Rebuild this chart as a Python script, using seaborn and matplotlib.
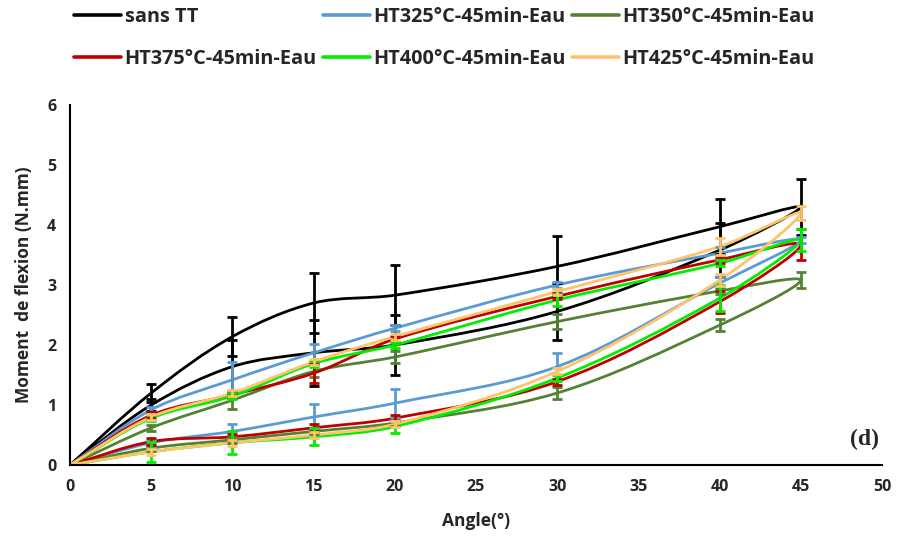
import numpy as np
import matplotlib
matplotlib.use("Agg")
import matplotlib.pyplot as plt
from matplotlib.path import Path
from matplotlib.patches import PathPatch
from matplotlib.lines import Line2D
import seaborn as sns

# loading 0 -> 45 then unloading 45 -> 0
angles = [0, 5, 10, 15, 20, 30, 40, 45, 40, 30, 20, 15, 10, 5, 0]

sans_tt = [0, 1.20, 2.14, 2.70, 2.83, 3.31, 3.97, 4.30, 3.58, 2.56, 2.00, 1.87, 1.64, 1.00, 0]
sans_tt_err = [0, 0.15, 0.33, 0.50, 0.50, 0.50, 0.46, 0.47, 0.45, 0.48, 0.50, 0.55, 0.45, 0.10, 0]

ht325 = [0, 0.92, 1.42, 1.87, 2.28, 3.00, 3.53, 3.75, 3.03, 1.64, 1.03, 0.80, 0.56, 0.37, 0]
ht325_err = [0, 0.05, 0.30, 0.15, 0.05, 0.05, 0.10, 0.05, 0.10, 0.23, 0.24, 0.22, 0.12, 0.05, 0]

ht350 = [0, 0.62, 1.08, 1.56, 1.80, 2.39, 2.90, 3.08, 2.33, 1.20, 0.70, 0.56, 0.42, 0.28, 0]
ht350_err = [0, 0.05, 0.15, 0.10, 0.10, 0.13, 0.05, 0.13, 0.10, 0.10, 0.05, 0.05, 0.05, 0.05, 0]

ht375 = [0, 0.83, 1.17, 1.53, 2.10, 2.81, 3.42, 3.67, 2.72, 1.39, 0.78, 0.62, 0.47, 0.39, 0]
ht375_err = [0, 0.05, 0.05, 0.16, 0.05, 0.05, 0.05, 0.26, 0.18, 0.05, 0.05, 0.06, 0.05, 0.06, 0]

ht400 = [0, 0.78, 1.15, 1.69, 2.00, 2.75, 3.36, 3.75, 2.78, 1.45, 0.64, 0.47, 0.37, 0.22, 0]
ht400_err = [0, 0.05, 0.05, 0.05, 0.05, 0.10, 0.05, 0.18, 0.22, 0.05, 0.10, 0.14, 0.19, 0.17, 0]

ht425 = [0, 0.80, 1.20, 1.72, 2.14, 2.89, 3.64, 4.20, 3.08, 1.56, 0.68, 0.50, 0.37, 0.22, 0]
ht425_err = [0, 0.05, 0.05, 0.05, 0.05, 0.05, 0.14, 0.12, 0.10, 0.05, 0.05, 0.05, 0.05, 0.05, 0]

labels = ["sans TT", "HT325°C-45min-Eau", "HT350°C-45min-Eau",
          "HT375°C-45min-Eau", "HT400°C-45min-Eau", "HT425°C-45min-Eau"]
colors = ["#000000", "#5B9BD5", "#548235", "#C00000", "#00EE00", "#FFC36B"]
series = [sans_tt, ht325, ht350, ht375, ht400, ht425]
errors = [sans_tt_err, ht325_err, ht350_err, ht375_err, ht400_err, ht425_err]

sns.set_theme(style="white")
plt.rcParams['font.family'] = ['Open Sans', 'DejaVu Sans']
plt.rcParams['font.weight'] = 'bold'

YS = 60 / 16.24  # pixel aspect of one y unit vs one x unit


def smooth_path(x, y):
    # excel-like smoothed line, cubic bezier with tangents weighted by segment length
    p = np.column_stack([x, np.asarray(y) * YS]).astype(float)
    pts = np.vstack([p[0], p, p[-1]])
    verts = [p[0]]
    codes = [Path.MOVETO]
    for i in range(1, len(pts) - 2):
        p0, p1, p2, p3 = pts[i - 1], pts[i], pts[i + 1], pts[i + 2]
        l01 = np.hypot(*(p1 - p0))
        l12 = np.hypot(*(p2 - p1))
        l23 = np.hypot(*(p3 - p2))
        c1 = p1 + (p2 - p0) * l12 / max(l01 + l12, 1e-9) / 3
        c2 = p2 - (p3 - p1) * l12 / max(l12 + l23, 1e-9) / 3
        verts += [c1, c2, p2]
        codes += [Path.CURVE4] * 3
    verts = np.array(verts)
    verts[:, 1] /= YS
    return Path(verts, codes)


fig = plt.figure(figsize=(9, 5.44), dpi=100)
ax = fig.add_axes([0.0778, 0.1452, 0.9022, 0.6618])

handles = []
for y, e, c, lab in zip(series, errors, colors, labels):
    ax.add_patch(PathPatch(smooth_path(angles, y), facecolor="none",
                           edgecolor=c, lw=2.0, zorder=2))
    ax.errorbar(angles[1:-1], y[1:-1], yerr=e[1:-1], fmt="none", ecolor=c,
                elinewidth=2.0, capsize=3.5, capthick=2.0, zorder=3)
    handles.append(Line2D([], [], color=c, lw=2.6))

ax.set_xlim(0, 50)
ax.set_ylim(0, 6)
ax.set_xticks(range(0, 51, 5))
ax.set_yticks(range(0, 7))
ax.tick_params(axis="both", length=0, labelsize=11.5, pad=10)
for lab in ax.get_xticklabels() + ax.get_yticklabels():
    lab.set_fontweight("bold")
sns.despine(ax=ax)
for s in ["left", "bottom"]:
    ax.spines[s].set_color("black")
    ax.spines[s].set_linewidth(1.5)

ax.set_xlabel("Angle(°)", fontsize=12.5, fontweight="bold", labelpad=12)
ax.set_ylabel("Moment  de flexion (N.mm)", fontsize=12.5, fontweight="bold", labelpad=10)
ax.text(0.996, 0.07, "(d)", transform=ax.transAxes, ha="right", va="center",
        fontsize=17, fontweight="bold", family=["Liberation Serif", "DejaVu Serif"])

# legend fills by column, reorder so rows read like the original
order = [0, 3, 1, 4, 2, 5]
fig.legend([handles[i] for i in order], [labels[i] for i in order], ncol=3,
           loc="upper left", bbox_to_anchor=(74 / 900, 1 - 7 / 544), frameon=False,
           borderpad=0, borderaxespad=0, handlelength=2.35, handletextpad=0.2,
           columnspacing=0.3, labelspacing=1.1,
           prop={"size": 14.3, "weight": "bold"})

fig.savefig("out.png", dpi=100)
